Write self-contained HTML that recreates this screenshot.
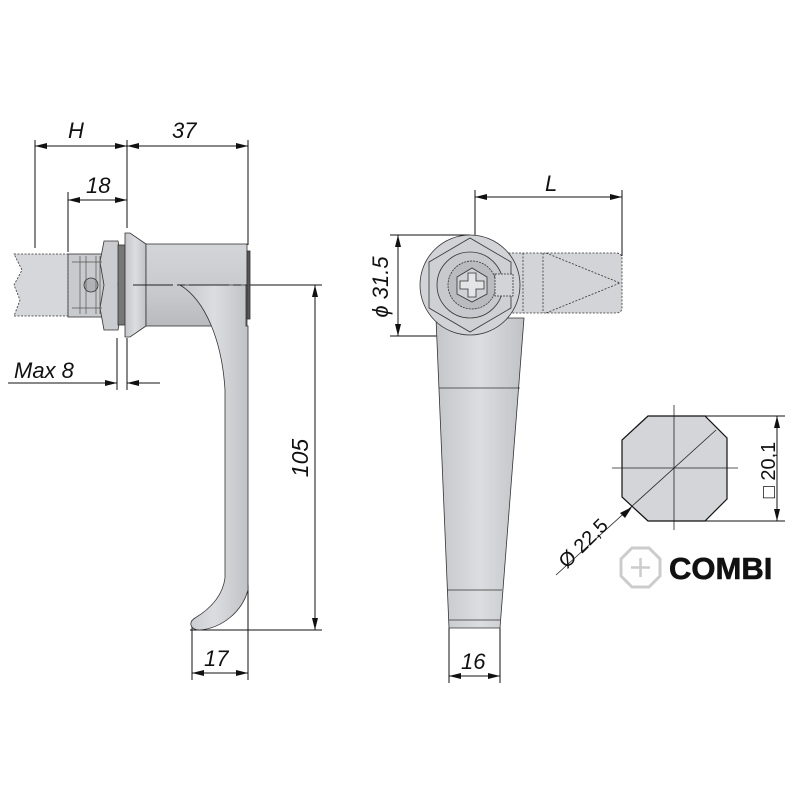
<!DOCTYPE html>
<html><head><meta charset="utf-8"><style>
html,body{margin:0;padding:0;background:#fff;}
svg{display:block}
text{font-family:"Liberation Sans",sans-serif;font-style:italic;fill:#111}
</style></head><body>
<svg width="800" height="800" viewBox="0 0 800 800" xmlns="http://www.w3.org/2000/svg">
<defs>
<marker id="a" viewBox="0 0 12 6" refX="12" refY="3" markerWidth="12" markerHeight="6" orient="auto-start-reverse" markerUnits="userSpaceOnUse"><path d="M0,0 L12,3 L0,6 z" fill="#111"/></marker>
<linearGradient id="g" x1="0" y1="0" x2="1" y2="0"><stop offset="0" stop-color="#c4c6ca"/><stop offset="0.5" stop-color="#dcdde0"/><stop offset="1" stop-color="#c0c2c6"/></linearGradient>
<linearGradient id="gv" x1="0" y1="0" x2="0" y2="1"><stop offset="0" stop-color="#d4d5d8"/><stop offset="0.6" stop-color="#c8c9cc"/><stop offset="1" stop-color="#b8babd"/></linearGradient>
</defs>
<g stroke="#111" stroke-width="1" fill="none">
<line x1="35" y1="140" x2="35" y2="248"/>
<line x1="127" y1="140" x2="127" y2="228"/>
<line x1="248" y1="140" x2="248" y2="245"/>
<line x1="35" y1="146" x2="127" y2="146" marker-start="url(#a)" marker-end="url(#a)"/>
<line x1="127" y1="146" x2="248" y2="146" marker-start="url(#a)" marker-end="url(#a)"/>
<line x1="68" y1="192" x2="68" y2="252"/>
<line x1="68" y1="200" x2="127" y2="200" marker-start="url(#a)" marker-end="url(#a)"/>
<line x1="117" y1="338" x2="117" y2="390"/>
<line x1="127" y1="338" x2="127" y2="390"/>
<line x1="8" y1="383" x2="117" y2="383" marker-end="url(#a)"/>
<line x1="160" y1="383" x2="127" y2="383" marker-end="url(#a)"/>
<line x1="250" y1="285" x2="322" y2="285"/>
<line x1="190" y1="630" x2="322" y2="630"/>
<line x1="315" y1="285" x2="315" y2="630" marker-start="url(#a)" marker-end="url(#a)"/>
<line x1="192" y1="620" x2="192" y2="680"/>
<line x1="248" y1="585" x2="248" y2="680"/>
<line x1="192" y1="673" x2="248" y2="673" marker-start="url(#a)" marker-end="url(#a)"/>
</g>
<g stroke="#333" stroke-width="0.8">
<path d="M14,254 L68,254 L68,316 L14,316 L20,300 L14,285 L22,270 z" fill="#d6d7da" stroke-dasharray="2,1.5"/>
<rect x="68" y="254" width="36" height="63" fill="#c9cacd"/>
<circle cx="91" cy="285" r="7" fill="#b0b2b6"/>
<path d="M104,241 L118,241 L122,262 L118,285 L122,308 L118,330 L104,330 L100,308 L104,285 L100,262 z" fill="#cbccd0"/>
<rect x="118" y="245" width="7" height="80" fill="#777"/>
<path d="M125,233 L130,233 L146,244 L146,326 L130,337 L125,337 z" fill="url(#g)"/>
<rect x="146" y="244" width="101" height="82" fill="url(#gv)"/>
<rect x="247" y="251" width="3" height="68" fill="#555"/>
<path d="M180,285 C205,300 222,340 225,390 L225,578 C222,600 205,612 195,618 C188,622 190,630 200,630 C222,628 242,612 248,590 L248,326 L246,326 L246,285 z" fill="url(#g)"/>
</g>
<line x1="133" y1="285" x2="247" y2="285" stroke="#222" stroke-width="1" stroke-dasharray="40,4,8,4"/>
<g stroke="#555" stroke-width="0.7">
<line x1="72" y1="262" x2="102" y2="262"/><line x1="72" y1="308" x2="102" y2="308"/>
<line x1="80" y1="256" x2="80" y2="314"/><line x1="86" y1="256" x2="86" y2="314"/><line x1="96" y1="256" x2="96" y2="314"/><line x1="100" y1="256" x2="100" y2="314"/>
</g>
<text x="68" y="138" font-size="22">H</text>
<text x="172" y="138" font-size="22">37</text>
<text x="86" y="193" font-size="22">18</text>
<text x="14" y="378" font-size="22">Max 8</text>
<text x="204" y="666" font-size="22">17</text>
<text transform="translate(308,458) rotate(-90)" text-anchor="middle" font-size="23">105</text>

<g stroke="#111" stroke-width="1" fill="none">
<line x1="390" y1="235" x2="470" y2="235"/>
<line x1="390" y1="336" x2="450" y2="336"/>
<line x1="398" y1="235" x2="398" y2="336" marker-start="url(#a)" marker-end="url(#a)"/>
<line x1="475" y1="190" x2="475" y2="290"/>
<line x1="622" y1="190" x2="622" y2="256"/>
<line x1="475" y1="197" x2="622" y2="197" marker-start="url(#a)" marker-end="url(#a)"/>
<line x1="449" y1="628" x2="449" y2="683"/>
<line x1="500" y1="628" x2="500" y2="683"/>
<line x1="449" y1="676" x2="500" y2="676" marker-start="url(#a)" marker-end="url(#a)"/>
</g>
<g stroke="#333" stroke-width="0.8">
<path d="M436,318 L524,318 L500,628 L449,628 z" fill="url(#g)"/>
<line x1="439" y1="388" x2="520" y2="388"/>
<line x1="447" y1="590" x2="502" y2="590"/>
<line x1="449" y1="620" x2="500" y2="620"/>
<path d="M505,253 L616,253 Q622,253 622,259 L622,307 Q622,313 616,313 L505,313 z" fill="#d3d4d7" stroke-dasharray="2,1.5"/>
<path d="M546,253 L620,283 L546,313" fill="none" stroke-dasharray="2,1.5"/>
<line x1="523" y1="253" x2="523" y2="313" stroke-dasharray="2,1.5"/>
<line x1="543" y1="253" x2="543" y2="313" stroke-dasharray="2,1.5"/>
<circle cx="470" cy="285" r="50" fill="#d2d3d6"/>
<polygon points="470,238 511,262 511,308 470,332 429,308 429,262" fill="#cfd0d3"/>
<circle cx="470" cy="285" r="33" fill="#c8c9cc"/>
<circle cx="472" cy="285" r="24" fill="#b9bbbf" stroke-dasharray="2,1"/>
<rect x="495" y="274" width="18" height="22" fill="#d3d4d7" stroke-dasharray="2,1"/>
<polygon points="472,268 487,277 487,294 472,302 457,294 457,277" fill="#d0d1d4"/>
<path d="M468,273 h8 v8 h8 v8 h-8 v8 h-8 v-8 h-8 v-8 h8 z" fill="#e4e5e7"/>
</g>
<text x="545" y="191" font-size="22">L</text>
<text transform="translate(388,287) rotate(-90)" text-anchor="middle" font-size="22">ϕ 31.5</text>
<text x="461" y="669" font-size="22">16</text>

<g stroke="#111" stroke-width="1" fill="none">
<line x1="690" y1="416" x2="785" y2="416"/>
<line x1="690" y1="521" x2="785" y2="521"/>
<line x1="777" y1="416" x2="777" y2="521" marker-start="url(#a)" marker-end="url(#a)"/>
</g>
<polygon points="648,416 705,416 727,438 727,499 705,521 648,521 622,497 622,440" fill="#d4d5d8" stroke="#111" stroke-width="1.2"/>
<g stroke="#222" stroke-width="0.8">
<line x1="674" y1="405" x2="674" y2="530"/>
<line x1="612" y1="468" x2="738" y2="468"/>
<line x1="716" y1="430" x2="556" y2="575"/>
</g>
<polygon points="632,507 620,513 625,518" fill="#111"/>
<text transform="translate(775,470) rotate(-90)" text-anchor="middle" font-size="20" style="font-style:normal">□ 20,1</text>
<text transform="translate(588,548) rotate(-45)" text-anchor="middle" font-size="20" style="font-style:normal">Ø 22,5</text>
<polygon points="632,548 649,548 660,559 660,576 649,587 632,587 621,576 621,559" fill="none" stroke="#ccc" stroke-width="3"/>
<path d="M640.5,558 v19 M631,567.5 h19" stroke="#ccc" stroke-width="2.5"/>
<text x="669" y="579" font-size="31" font-weight="bold" style="font-style:normal" stroke="#111" stroke-width="0.6">COMBI</text>
</svg>
</body></html>
